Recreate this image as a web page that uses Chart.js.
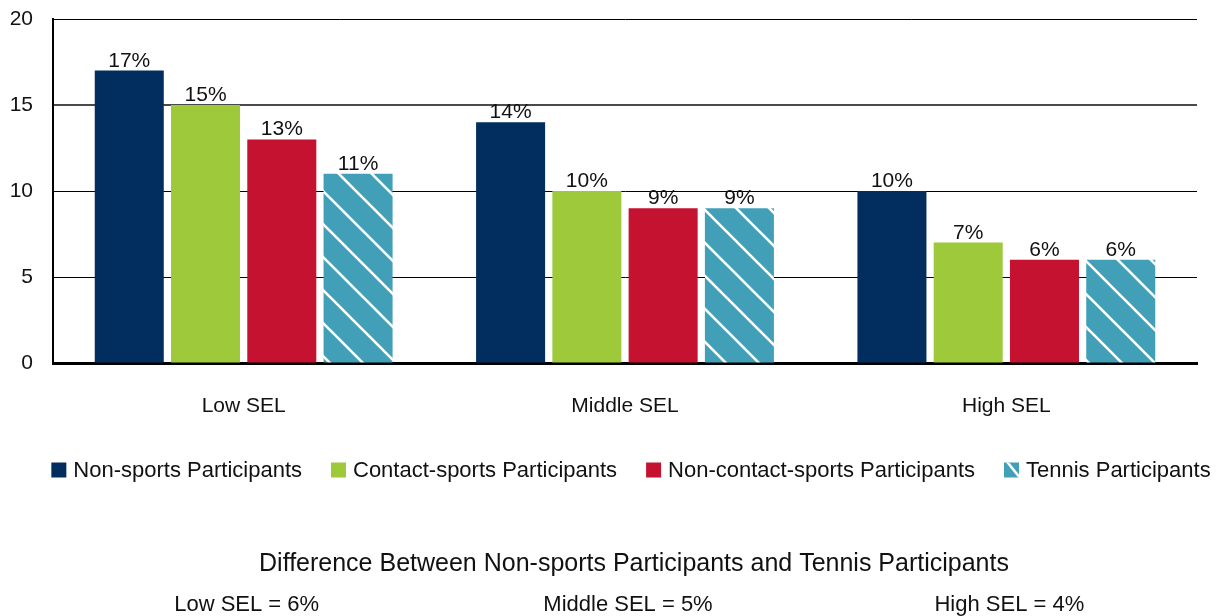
<!DOCTYPE html>
<html lang="en">
  <head>
    <meta charset="UTF-8" />
    <title>Participants by SEL</title>
    <style>
      html, body { margin: 0; padding: 0; background: #fff; }
      #wrap { width: 1222px; height: 616px; position: relative; }
    </style>
  </head>
  <body>
    <div id="wrap">
      <canvas id="myChart" width="1222" height="616"></canvas>
    </div>

    <script src="https://cdn.jsdelivr.net/npm/chart.js"></script>
    <script>
      const categories = ['Low SEL', 'Middle SEL', 'High SEL'];
      const seriesNames = ['Non-sports Participants', 'Contact-sports Participants', 'Non-contact-sports Participants', 'Tennis Participants'];
      const nonSports = [17, 14, 10];
      const contactSports = [15, 10, 7];
      const nonContactSports = [13, 9, 6];
      const tennis = [11, 9, 6];
      const yTicks = [0, 5, 10, 15, 20];
      const diffTitle = 'Difference Between Non-sports Participants and Tennis Participants';
      const diffValues = [6, 5, 4];

      const FONT = '"Liberation Sans", Arial, Helvetica, sans-serif';
      const navy = '#022d5f';
      const green = '#9dc93b';
      const red = '#c41230';
      const teal = '#41a0b8';

      // white diagonal stripes on teal
      function stripes(size, lw) {
        const c = document.createElement('canvas');
        c.width = size; c.height = size;
        const g = c.getContext('2d');
        g.fillStyle = teal;
        g.fillRect(0, 0, size, size);
        g.strokeStyle = '#fff';
        g.lineWidth = lw;
        [-size, 0, size].forEach(off => {
          g.beginPath();
          g.moveTo(off - 2, -2);
          g.lineTo(off + size + 2, size + 2);
          g.stroke();
        });
        return g.createPattern(c, 'repeat');
      }
      const tennisFill = stripes(33, 2.6);

      const valueLabels = {
        id: 'valueLabels',
        afterDatasetsDraw(chart) {
          const ctx = chart.ctx;
          ctx.save();
          ctx.font = '21px ' + FONT;
          ctx.fillStyle = '#111';
          ctx.textAlign = 'center';
          ctx.textBaseline = 'alphabetic';
          chart.data.datasets.forEach((ds, i) => {
            chart.getDatasetMeta(i).data.forEach((bar, j) => {
              ctx.fillText(ds.data[j] + '%', bar.x, bar.y - 4);
            });
          });
          ctx.restore();
        }
      };

      const legendAndNotes = {
        id: 'legendAndNotes',
        afterDraw(chart) {
          const ctx = chart.ctx;
          const fills = [navy, green, red, null];
          ctx.save();
          ctx.font = '22px ' + FONT;
          ctx.fillStyle = '#111';
          ctx.textBaseline = 'middle';
          // legend
          const box = 15, gapText = 7, gapItem = 29;
          const widths = seriesNames.map(s => ctx.measureText(s).width);
          let total = widths.reduce((a, w) => a + box + gapText + w, 0) + gapItem * (seriesNames.length - 1);
          let x = 631 - total / 2;
          const ly = 470;
          seriesNames.forEach((name, i) => {
            if (fills[i]) {
              ctx.fillStyle = fills[i];
              ctx.fillRect(x, ly - box / 2, box, box);
            } else {
              ctx.fillStyle = teal;
              ctx.fillRect(x, ly - box / 2, box, box);
              ctx.save();
              ctx.beginPath();
              ctx.rect(x, ly - box / 2, box, box);
              ctx.clip();
              ctx.strokeStyle = '#fff';
              ctx.lineWidth = 2.5;
              ctx.beginPath();
              ctx.moveTo(x + 2, ly - box / 2 - 2);
              ctx.lineTo(x + box + 4, ly + box / 2 + 4);
              ctx.stroke();
              ctx.restore();
            }
            ctx.fillStyle = '#111';
            ctx.textAlign = 'left';
            ctx.fillText(name, x + box + gapText, ly + 1);
            x += box + gapText + widths[i] + gapItem;
          });
          // difference notes
          ctx.textAlign = 'center';
          ctx.font = '25px ' + FONT;
          ctx.fillText(diffTitle, 634, 564);
          ctx.font = '22px ' + FONT;
          const xs = chart.scales.x;
          categories.forEach((c, i) => {
            ctx.fillText(c + ' = ' + diffValues[i] + '%', xs.getPixelForValue(i) + 3, 605);
          });
          ctx.restore();
        }
      };

      new Chart(document.getElementById('myChart'), {
        type: 'bar',
        data: {
          labels: categories,
          datasets: [
            { label: seriesNames[0], data: nonSports, backgroundColor: navy },
            { label: seriesNames[1], data: contactSports, backgroundColor: green },
            { label: seriesNames[2], data: nonContactSports, backgroundColor: red },
            { label: seriesNames[3], data: tennis, backgroundColor: tennisFill }
          ]
        },
        options: {
          responsive: false,
          animation: false,
          categoryPercentage: 0.8,
          barPercentage: 0.905,
          layout: { padding: { top: 19, right: 25, bottom: 0, left: 0 } },
          plugins: {
            legend: { display: false },
            tooltip: { enabled: false }
          },
          scales: {
            x: {
              grid: { display: false },
              border: { display: true, color: '#000', width: 3 },
              ticks: { color: '#111', font: { size: 21, family: FONT }, padding: 23 },
              afterFit(scale) { scale.height = 253; }
            },
            y: {
              min: 0,
              max: 20,
              afterBuildTicks(scale) { scale.ticks = yTicks.map(v => ({ value: v })); },
              grid: {
                drawTicks: false,
                color: c => c.tick.value === 0 ? 'rgba(0,0,0,0)' : (c.tick.value === 15 ? '#4a4a4a' : '#000'),
                lineWidth: c => c.tick.value === 15 ? 2 : 1
              },
              border: { display: true, color: '#000', width: 2 },
              ticks: { color: '#111', font: { size: 21, family: FONT }, padding: 20 },
              afterFit(scale) {
                scale.width = 53;
                scale.paddingTop = 0;
                scale.paddingBottom = 0;
              }
            }
          }
        },
        plugins: [valueLabels, legendAndNotes]
      });
    </script>
  </body>
</html>
